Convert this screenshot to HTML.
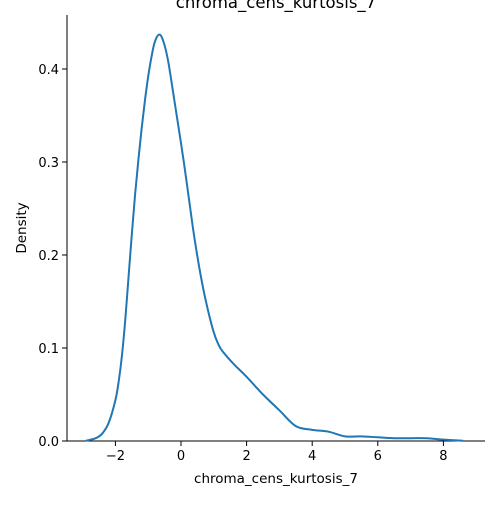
<!DOCTYPE html>
<html><head><meta charset="utf-8"><style>
body{margin:0;background:#fff;}
svg{font-family:"DejaVu Sans","Liberation Sans",sans-serif;}
</style></head><body>
<svg id="chart" width="500" height="500">
<text x="276" y="8" font-size="16.5" text-anchor="middle">chroma_cens_kurtosis_7</text>
<g id="axes"></g>
<path id="curve" fill="none" stroke="#1f77b4" stroke-width="2"></path>
<text x="276" y="483" font-size="13.5" text-anchor="middle">chroma_cens_kurtosis_7</text>
<text transform="translate(26,228) rotate(-90)" font-size="13.5" text-anchor="middle">Density</text>
</svg>
<script>
const xs=[-2.9,-2.6,-2.4,-2.2,-2.0,-1.9,-1.8,-1.7,-1.6,-1.5,-1.4,-1.3,-1.2,-1.1,-1.0,-0.9,-0.8,-0.67,-0.55,-0.4,-0.21,0.09,0.36,0.55,0.73,0.98,1.15,1.3,1.6,2.0,2.5,3.0,3.5,4.0,4.5,5.0,5.5,6.0,6.5,7.0,7.5,8.0,8.6];
const ys=[0.0003,0.003,0.008,0.02,0.044,0.064,0.092,0.13,0.176,0.222,0.265,0.302,0.336,0.366,0.392,0.413,0.429,0.437,0.431,0.41,0.368,0.299,0.23,0.188,0.155,0.119,0.103,0.095,0.083,0.069,0.05,0.033,0.016,0.012,0.01,0.005,0.005,0.004,0.003,0.003,0.003,0.0015,0.0003];
const xTicks=[-2,0,2,4,6,8];
const yTicks=[0,0.1,0.2,0.3,0.4];
const X=v=>181+v*32.8, Y=v=>441-v*930;
const ns="http://www.w3.org/2000/svg";
const g=document.getElementById('axes');
function el(t,a,txt){const e=document.createElementNS(ns,t);for(const k in a)e.setAttribute(k,a[k]);if(txt!==undefined)e.textContent=txt;g.appendChild(e);return e;}
let l=el('line',{x1:67,y1:15,x2:67,y2:441,stroke:'#000','stroke-width':1});


l=el('line',{x1:67,y1:441,x2:485,y2:441,stroke:'#000','stroke-width':1});


xTicks.forEach(t=>{const x=X(t);
 let m=el('line',{x1:x,y1:441,x2:x,y2:446,stroke:'#000'});
 
 
 let tx=el('text',{x:x,y:460,'font-size':13,'text-anchor':'middle'},t<0?'\u2212'+(-t):String(t));
 
 });
yTicks.forEach(t=>{const y=Y(t);
 let m=el('line',{x1:62,y1:y,x2:67,y2:y,stroke:'#000'});
 
 
 let tx=el('text',{x:59,y:y+5,'font-size':13,'text-anchor':'end'},t.toFixed(1));
 
 });
const P=xs.map((v,i)=>[X(v),Y(ys[i])]);
let d='M'+P[0][0]+','+P[0][1];
for(let i=0;i<P.length-1;i++){const p0=P[Math.max(0,i-1)],p1=P[i],p2=P[i+1],p3=P[Math.min(P.length-1,i+2)];
 d+=' C'+(p1[0]+(p2[0]-p0[0])/6)+','+(p1[1]+(p2[1]-p0[1])/6)+' '+(p2[0]-(p3[0]-p1[0])/6)+','+(p2[1]-(p3[1]-p1[1])/6)+' '+p2[0]+','+p2[1];}
document.getElementById('curve').setAttribute('d',d);
</script>
</body></html>
